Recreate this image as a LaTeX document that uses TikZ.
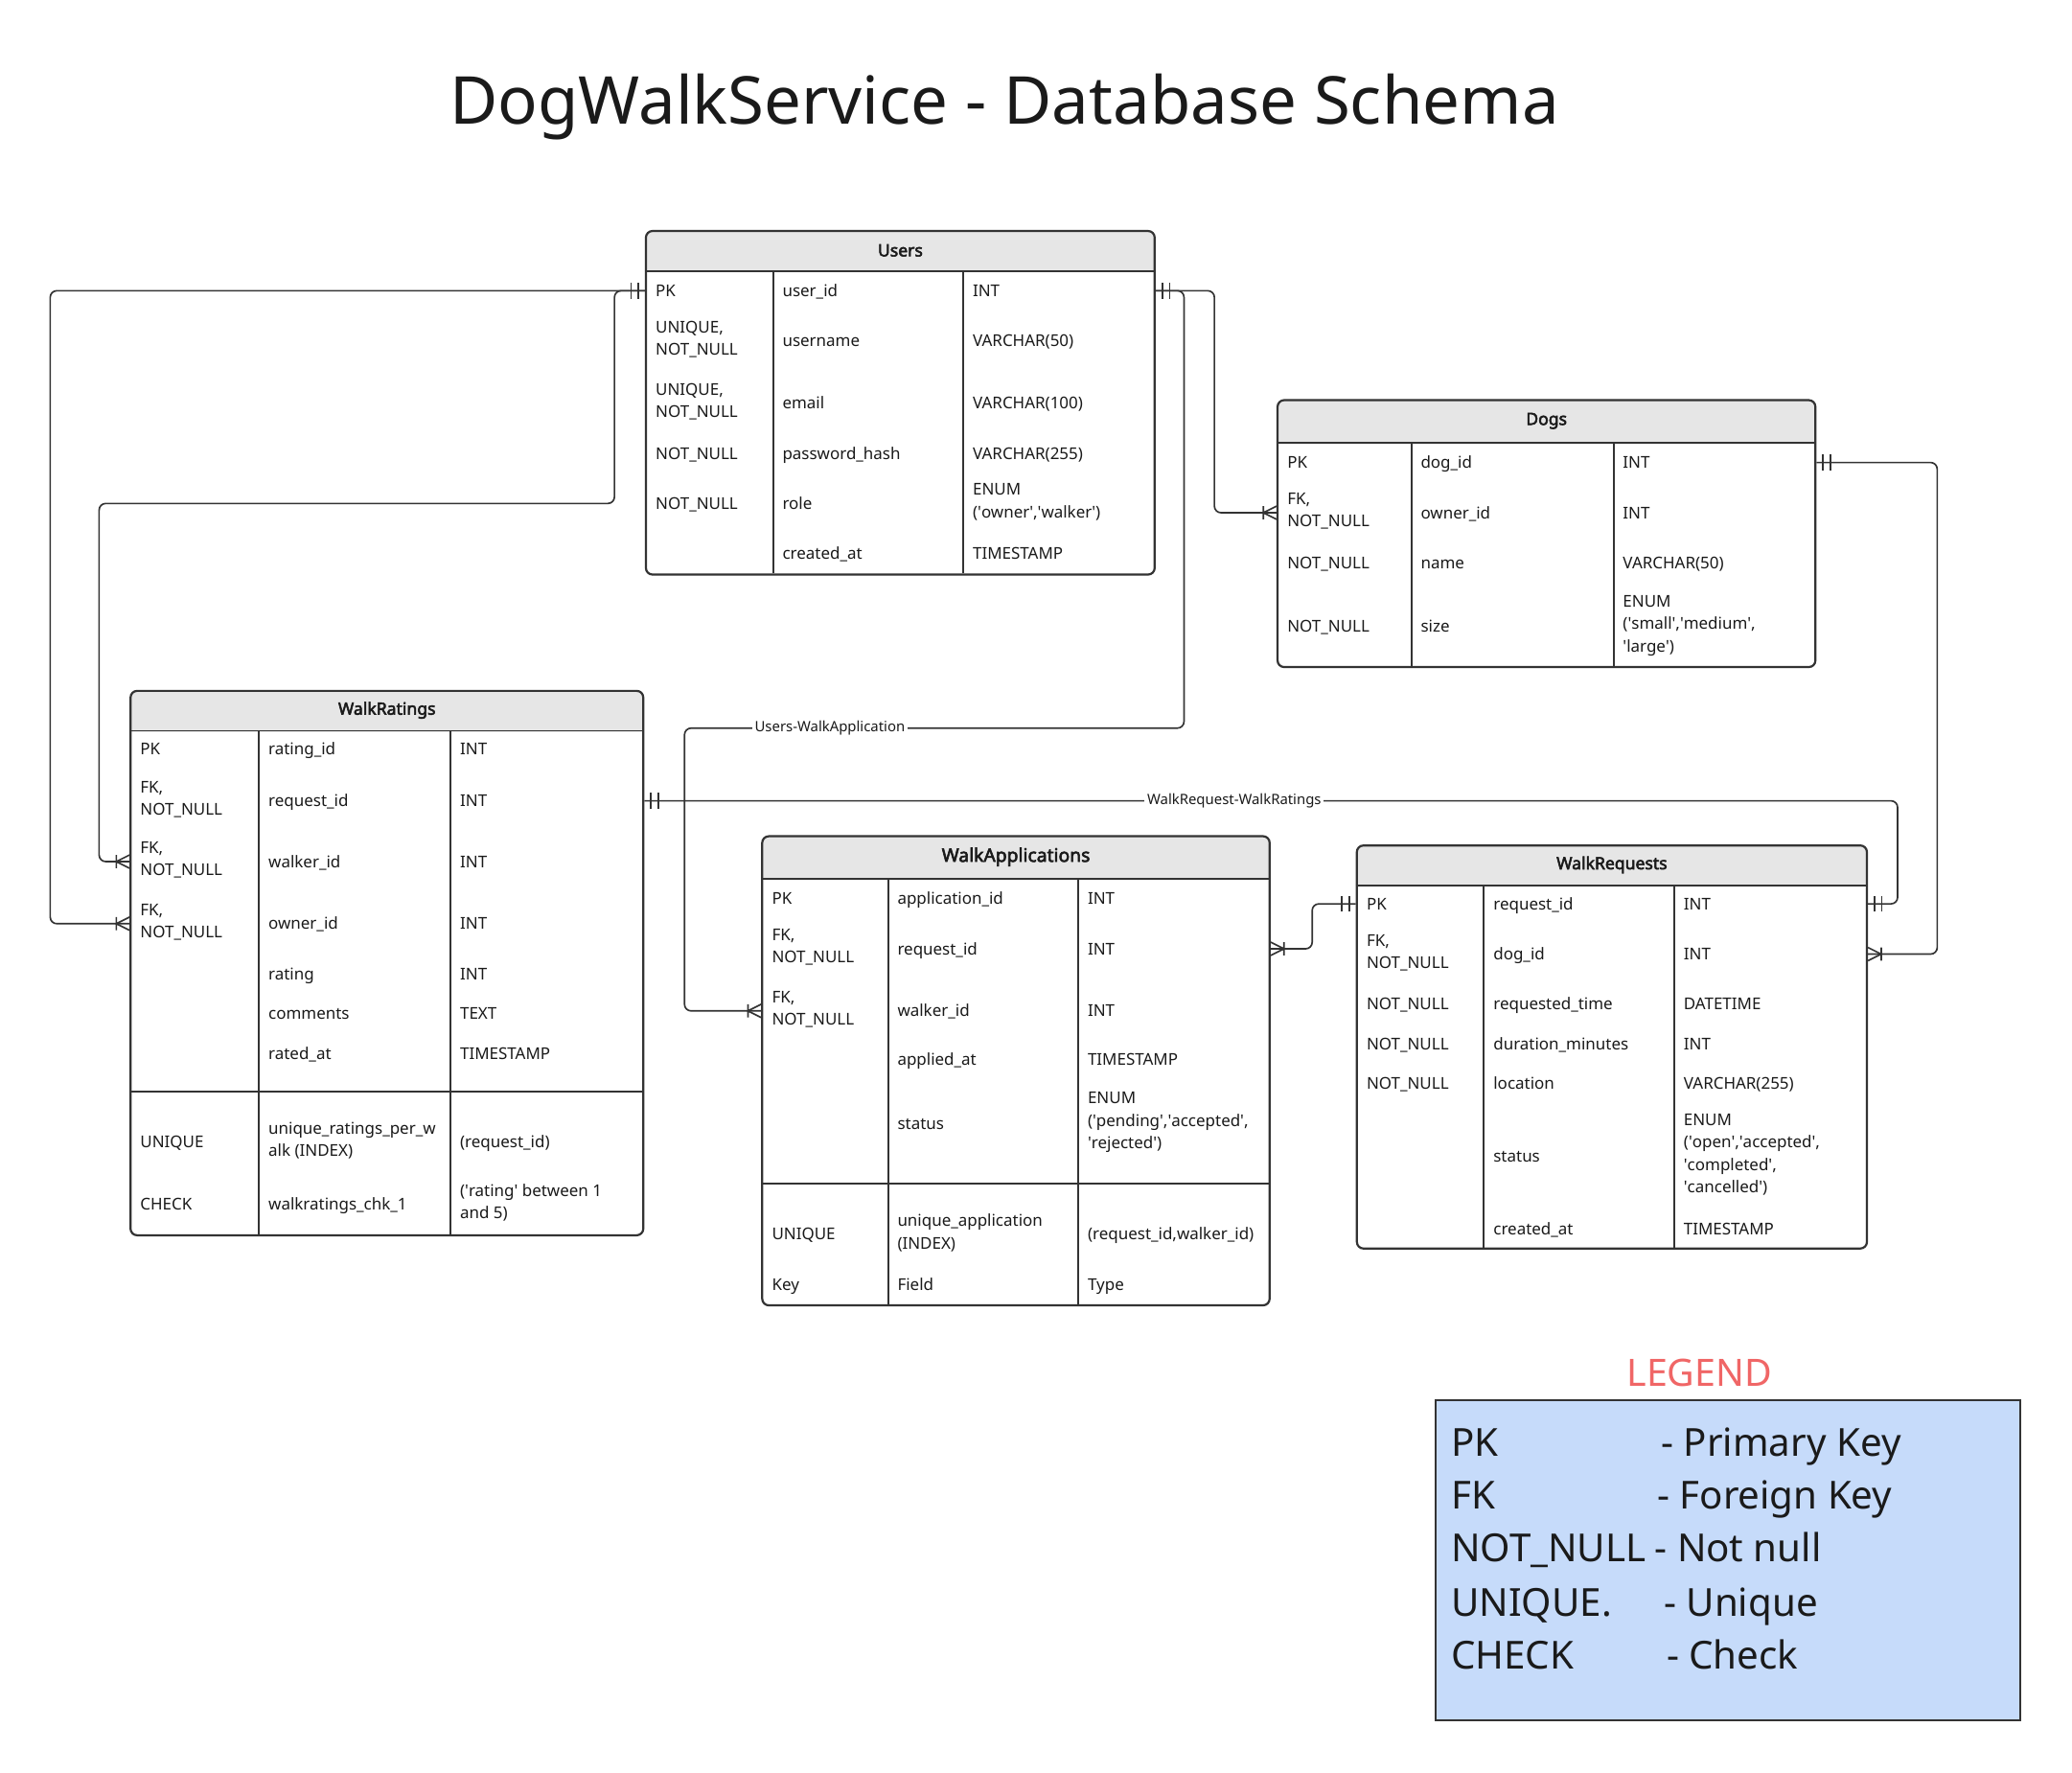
\documentclass[tikz,border=0pt]{standalone}
\usepackage{fontspec}
\setmainfont{Noto Sans}[AutoFakeBold=3]
\usetikzlibrary{decorations.markings}

\definecolor{linegray}{HTML}{333333}
\definecolor{headgray}{HTML}{E6E6E6}
\definecolor{legendblue}{HTML}{C6DBFA}
\definecolor{legendred}{HTML}{F06666}
\definecolor{textblack}{HTML}{1A1A1A}

\newcommand{\rowstrut}{\rule[-4.1pt]{0pt}{17pt}}
\newcommand{\sq}{\textquotesingle}

\tikzset{
  tip line/.style={draw=linegray, line width=1.2pt, sharp corners},
  from one/.style={postaction={decorate, decoration={markings,
    mark=at position 0 with {\draw[tip line] (5,-6) -- (5,6) (10.5,-6) -- (10.5,6);}}}},
  to one/.style={postaction={decorate, decoration={markings,
    mark=at position 1 with {\draw[tip line] (-5,-6) -- (-5,6) (-10.5,-6) -- (-10.5,6);}}}},
  to many/.style={postaction={decorate, decoration={markings,
    mark=at position 1 with {\draw[tip line] (0,-5) -- (-10,0) -- (0,5) (-10,-5) -- (-10,5);}}}},
}

\begin{document}
\begin{tikzpicture}[x=1pt, y=-1pt,
  tbl/.style n args={3}{draw=linegray, line width=1.6pt, rounded corners=5pt, anchor=north west,
    inner sep=0pt, minimum width=#1, minimum height=#2,
    path picture={\fill[headgray, sharp corners] (path picture bounding box.north west) rectangle ([yshift=-#3]path picture bounding box.north east);}},
  hdr/.style={inner sep=0pt, text=textblack, font=\fontsize{12.75}{15}\selectfont\bfseries},
  cell/.style={anchor=west, inner sep=0pt, align=left, text=textblack, font=\fontsize{12.3}{17}\selectfont,
    execute at begin node=\rowstrut, execute at end node=\rowstrut},
  divider/.style={draw=linegray, line width=1.4pt},
  rel/.style={draw=linegray, line width=1.2pt, rounded corners=5pt},
  lbl/.style={fill=white, inner sep=2pt, text=textblack, font=\fontsize{10.8}{13}\selectfont},
  legend text/.style={anchor=base west, inner sep=0pt, text=textblack, font=\fontsize{29.2}{35}\selectfont}]

\fill[white] (0,0) rectangle (1568,1341);
\useasboundingbox (0,0) rectangle (1568,1341);

\node[anchor=base, text=textblack, font=\fontsize{50}{60}\selectfont] (title) at (760,94) {DogWalkService - Database Schema};

% Users
\node[tbl={385pt}{260pt}{31pt}] (users) at (488,174) {};
\node[hdr] (users-h) at ([yshift=-15.5pt]users.north) {Users};
\draw[divider] (488,205) -- (873,205) (585,205) -- (585,434) (729,205) -- (729,434);
\foreach \y/\ky/\fd/\tp [count=\i] in {220/PK/user\_id/INT,
    258/{UNIQUE,\\NOT\_NULL}/username/VARCHAR(50),
    305/{UNIQUE,\\NOT\_NULL}/email/VARCHAR(100),
    343/NOT\_NULL/password\_hash/VARCHAR(255),
    381/NOT\_NULL/role/{ENUM\\(\sq owner\sq,\sq walker\sq)},
    419//created\_at/TIMESTAMP} {
  \node[cell] (users-k\i) at (496,\y) {\ky};
  \node[cell] (users-f\i) at (592,\y) {\fd};
  \node[cell] (users-t\i) at (736,\y) {\tp};
}

% Dogs
\node[tbl={407pt}{202pt}{33pt}] (dogs) at (966,302) {};
\node[hdr] (dogs-h) at ([yshift=-16.5pt]dogs.north) {Dogs};
\draw[divider] (966,335) -- (1373,335) (1068,335) -- (1068,504) (1221,335) -- (1221,504);
\foreach \y/\ky/\fd/\tp [count=\i] in {350/PK/dog\_id/INT,
    388/{FK,\\NOT\_NULL}/owner\_id/INT,
    426/NOT\_NULL/name/VARCHAR(50),
    474/NOT\_NULL/size/{ENUM\\(\sq small\sq,\sq medium\sq,\\\sq large\sq)}} {
  \node[cell] (dogs-k\i) at (974,\y) {\ky};
  \node[cell] (dogs-f\i) at (1075,\y) {\fd};
  \node[cell] (dogs-t\i) at (1228,\y) {\tp};
}

% WalkRatings
\node[tbl={388pt}{412pt}{31pt}] (ratings) at (98,522) {};
\node[hdr] (ratings-h) at ([yshift=-15.5pt]ratings.north) {WalkRatings};
\draw[divider] (98,553) -- (486,553) (98,826) -- (486,826) (196,553) -- (196,934) (341,553) -- (341,934);
\foreach \y/\ky/\fd/\tp [count=\i] in {567/PK/rating\_id/INT,
    606/{FK,\\NOT\_NULL}/request\_id/INT,
    652/{FK,\\NOT\_NULL}/walker\_id/INT,
    699/{FK,\\NOT\_NULL}/owner\_id/INT,
    737//rating/INT,
    767//comments/TEXT,
    797//rated\_at/TIMESTAMP,
    864/UNIQUE/unique\_ratings\_per\_w\\alk (INDEX)/(request\_id),
    911/CHECK/walkratings\_chk\_1/(\sq rating\sq{} between 1\\and 5)} {
  \node[cell] (ratings-k\i) at (106,\y) {\ky};
  \node[cell] (ratings-f\i) at (203,\y) {\fd};
  \node[cell] (ratings-t\i) at (348,\y) {\tp};
}

% WalkApplications
\node[tbl={384pt}{355pt}{33pt}] (apps) at (576,632) {};
\node[hdr, font=\fontsize{14}{17}\selectfont\bfseries] (apps-h) at ([yshift=-16.5pt]apps.north) {WalkApplications};
\draw[divider] (576,665) -- (960,665) (576,896) -- (960,896) (672,665) -- (672,987) (816,665) -- (816,987);
\foreach \y/\ky/\fd/\tp [count=\i] in {680/PK/application\_id/INT,
    718/{FK,\\NOT\_NULL}/request\_id/INT,
    765/{FK,\\NOT\_NULL}/walker\_id/INT,
    802//applied\_at/TIMESTAMP,
    850//status/{ENUM\\(\sq pending\sq,\sq accepted\sq,\\\sq rejected\sq)},
    934/UNIQUE/unique\_application\\(INDEX)/{(request\_id,walker\_id)},
    972/Key/Field/Type} {
  \node[cell] (apps-k\i) at (584,\y) {\ky};
  \node[cell] (apps-f\i) at (679,\y) {\fd};
  \node[cell] (apps-t\i) at (823,\y) {\tp};
}

% WalkRequests
\node[tbl={386pt}{305pt}{31pt}] (requests) at (1026,639) {};
\node[hdr] (requests-h) at ([yshift=-15.5pt]requests.north) {WalkRequests};
\draw[divider] (1026,670) -- (1412,670) (1123,670) -- (1123,944) (1267,670) -- (1267,944);
\foreach \y/\ky/\fd/\tp [count=\i] in {684/PK/request\_id/INT,
    722/{FK,\\NOT\_NULL}/dog\_id/INT,
    760/NOT\_NULL/requested\_time/DATETIME,
    790/NOT\_NULL/duration\_minutes/INT,
    820/NOT\_NULL/location/VARCHAR(255),
    875//status/{ENUM\\(\sq open\sq,\sq accepted\sq,\\\sq completed\sq,\\\sq cancelled\sq)},
    930//created\_at/TIMESTAMP} {
  \node[cell] (requests-k\i) at (1034,\y) {\ky};
  \node[cell] (requests-f\i) at (1130,\y) {\fd};
  \node[cell] (requests-t\i) at (1274,\y) {\tp};
}

% relations
\draw[rel, from one, to many] (users.west |- users-k1) -| (38,699) -- (ratings.west |- ratings-k4);
\draw[rel, from one, to many] (users.west |- users-k1) -| (465,381) -| (75,652) -- (ratings.west |- ratings-k3);
\draw[rel, from one, to many] (users.east |- users-k1) -| (919,388) -- (dogs.west |- dogs-k2);
\draw[rel, from one, to many] (users.east |- users-k1) -| (896,551) -| (518,765) -- (apps.west |- apps-k3);
\draw[rel, from one, to many] (dogs.east |- dogs-k1) -| (1466,722) -- (requests.east |- requests-k2);
\draw[rel, from one, to many] (requests.west |- requests-k1) -| (993,718) -- (apps.east |- apps-k2);
\draw[rel, from one, to one] (ratings.east |- ratings-k2) -| (1436,684) -- (requests.east |- requests-k1);
\node[lbl] (users-apps) at (628,551) {Users-WalkApplication};
\node[lbl] (requests-ratings) at (934,606) {WalkRequest-WalkRatings};

% legend
\node[anchor=base, text=legendred, font=\fontsize{28.5}{34}\selectfont] (legend-h) at (1286,1049) {LEGEND};
\node[draw=linegray, fill=legendblue, line width=1.4pt, anchor=north west, inner sep=0pt,
  minimum width=442pt, minimum height=242pt] (legend) at (1086,1059) {};
\foreach \y/\ky/\x/\txt [count=\i] in {1102/PK/1257/Primary Key, 1142/FK/1254/Foreign Key,
    1182/NOT\_NULL/1252/Not null, 1223/UNIQUE./1259/Unique, 1263/CHECK/1261/Check} {
  \node[legend text] (legend-k\i) at (1098,\y) {\ky};
  \node[legend text] (legend-d\i) at (\x,\y) {- \txt};
}
\end{tikzpicture}
\end{document}
